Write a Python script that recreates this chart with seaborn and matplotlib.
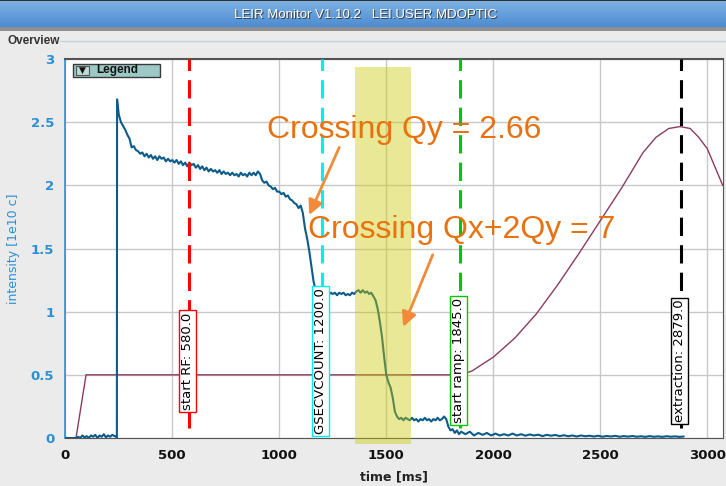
import numpy as np
import pandas as pd
import matplotlib
matplotlib.use("Agg")
import matplotlib.pyplot as plt
from matplotlib.patches import Rectangle
from matplotlib.ticker import FuncFormatter
import seaborn as sns

# ---------------------------------------------------------------- data
# Beam intensity [1e10 charges] along the LEIR cycle, time in ms
t_pre = [0, 50, 60, 70, 80, 90, 100, 110, 120, 130, 140, 150, 160, 170,
         180, 190, 200, 210, 220, 230, 240, 241]
i_pre = [0, 0, 0.01, 0.0, 0.02, 0.005, 0.015, 0.0, 0.02, 0.01, 0.025, 0.0,
         0.02, 0.01, 0.03, 0.005, 0.02, 0.01, 0.025, 0.015, 0.01, 0.0]

t_inj = [242] + list(range(250, 1190, 10))
i_inj = [2.68,
         2.56, 2.50, 2.47, 2.44, 2.40, 2.37, 2.30, 2.31, 2.28, 2.27,
         2.25, 2.26, 2.23, 2.25, 2.22, 2.24, 2.21, 2.23, 2.20, 2.23,
         2.21, 2.22, 2.19, 2.21, 2.19, 2.20, 2.18, 2.20, 2.17, 2.19,
         2.16, 2.18, 2.15, 2.18, 2.16, 2.17, 2.14, 2.16, 2.13, 2.15,
         2.12, 2.14, 2.11, 2.13, 2.11, 2.12, 2.10, 2.12, 2.09, 2.11,
         2.09, 2.10, 2.08, 2.10, 2.08, 2.09, 2.07, 2.10, 2.08, 2.09,
         2.07, 2.10, 2.08, 2.10, 2.08, 2.11, 2.09, 2.04, 2.02, 2.03,
         2.00, 1.99, 1.97, 1.98, 1.95, 1.95, 1.93, 1.94, 1.91, 1.92,
         1.89, 1.88, 1.86, 1.85, 1.82, 1.84, 1.78, 1.66, 1.58, 1.48,
         1.36, 1.24, 1.17, 1.15]

t_mid = list(range(1190, 1860, 10))
i_mid = [1.14, 1.15, 1.14, 1.15, 1.13, 1.15, 1.14, 1.15, 1.13, 1.15,
         1.14, 1.15, 1.13, 1.14, 1.13, 1.15, 1.14, 1.16, 1.17, 1.15,
         1.17, 1.15, 1.16, 1.14, 1.15, 1.12, 1.09, 1.02, 0.92, 0.80,
         0.64, 0.50, 0.44, 0.40, 0.32, 0.21, 0.17, 0.15, 0.16, 0.14,
         0.16, 0.15, 0.14, 0.16, 0.14, 0.15, 0.13, 0.15, 0.14, 0.16,
         0.14, 0.15, 0.13, 0.15, 0.14, 0.16, 0.14, 0.15, 0.17, 0.15,
         0.09, 0.06, 0.07, 0.04, 0.06, 0.03, 0.05]

t_ramp = list(range(1870, 2900, 20))
i_ramp = [0.03, 0.05, 0.02, 0.04, 0.025, 0.04, 0.02, 0.035, 0.02, 0.03,
          0.02, 0.035, 0.02, 0.03, 0.018, 0.028, 0.02, 0.026, 0.015, 0.025,
          0.018, 0.024, 0.015, 0.022, 0.014, 0.02, 0.012, 0.02, 0.014, 0.018,
          0.012, 0.018, 0.01, 0.016, 0.012, 0.017, 0.01, 0.015, 0.011, 0.016,
          0.01, 0.014, 0.009, 0.015, 0.01, 0.013, 0.009, 0.014, 0.01, 0.013,
          0.009, 0.012]

# Main magnetic field function (scaled to the intensity axis)
t_field = [0, 50, 97, 1845, 1900, 2000, 2100, 2200, 2300, 2400, 2500,
           2600, 2700, 2760, 2820, 2872, 2920, 2960, 3000, 3072]
b_field = [0, 0, 0.5, 0.5, 0.53, 0.64, 0.79, 0.98, 1.21, 1.46, 1.72,
           1.98, 2.26, 2.38, 2.45, 2.465, 2.45, 2.38, 2.29, 2.0]

# Timing events
event_names = ["start RF", "GSECVCOUNT", "start ramp", "extraction"]
event_times = [580.0, 1200.0, 1845.0, 2879.0]
event_colors = ["#ff0000", "#00f0f0", "#00c800", "#000000"]

x_ticks = [0, 500, 1000, 1500, 2000, 2500, 3000]
y_ticks = [0, 0.5, 1, 1.5, 2, 2.5, 3]

intensity = pd.DataFrame({
    "time": t_pre + t_inj + t_mid + t_ramp,
    "intensity": i_pre + i_inj + i_mid + i_ramp,
})
field = pd.DataFrame({"time": t_field, "field": b_field})

# ---------------------------------------------------------------- style
sns.set_style("white")
plt.rcParams["font.family"] = ["DejaVu Sans"]
ui_font = ["Liberation Sans", "DejaVu Sans"]

W, H = 726, 486
fig = plt.figure(figsize=(W / 100, H / 100), dpi=100)
fig.patch.set_facecolor("#ebebeb")


def fx(px):
    return px / W


def fy(py):
    return 1 - py / H


# window title bar with a vertical blue gradient
bar = fig.add_axes([0, fy(27), 1, 27 / H])
grad = np.linspace(0, 1, 64).reshape(-1, 1)
top = np.array([0.50, 0.70, 0.90])
bot = np.array([0.30, 0.55, 0.82])
img = top[None, None, :] * (1 - grad[..., None]) + bot[None, None, :] * grad[..., None]
bar.imshow(np.repeat(img, 4, axis=1), aspect="auto", extent=[0, 1, 0, 1])
bar.set_axis_off()
title = "LEIR Monitor V1.10.2   LEI.USER.MDOPTIC"
bar.text(0.686, 0.40, title, ha="right", va="center", fontsize=9.5,
         family=ui_font, color="#3a3a3a", transform=bar.transAxes)
bar.text(0.684, 0.45, title, ha="right", va="center", fontsize=9.5,
         family=ui_font, color="white", transform=bar.transAxes)
fig.add_artist(Rectangle((0, fy(31)), 1, 4 / H, transform=fig.transFigure,
                         facecolor="#8f8f8f", edgecolor="none"))
fig.add_artist(Rectangle((0, fy(1)), 1, 1 / H, transform=fig.transFigure,
                         facecolor="#303030", edgecolor="none"))

# panel caption
fig.text(fx(8), fy(41), "Overview", ha="left", va="center", family=ui_font,
         fontsize=8.5, fontweight="bold", color="#333333")
fig.add_artist(plt.Line2D([fx(60), 1], [fy(41), fy(41)],
                          transform=fig.transFigure, color="#c2d2e2", lw=1))

# ---------------------------------------------------------------- plot
ax = fig.add_axes([fx(65.3), fy(438), fx(722.7) - fx(65.3), fy(59) - fy(438)])
ax.set_facecolor("white")

sns.lineplot(data=field, x="time", y="field", ax=ax, color="#8c3b5e",
             lw=1.0, estimator=None, sort=False, zorder=3)
sns.lineplot(data=intensity, x="time", y="intensity", ax=ax, color="#0b5c8a",
             lw=1.5, estimator=None, sort=False, zorder=4)

ax.set_xlim(0, 3072)
ax.set_ylim(0, 3)
ax.set_xticks(x_ticks)
ax.set_yticks(y_ticks)
ax.xaxis.set_major_formatter(FuncFormatter(lambda v, p: f"{v:g}"))
ax.yaxis.set_major_formatter(FuncFormatter(lambda v, p: f"{v:g}"))
ax.grid(True, color="#c8c8c8", lw=1.0)
ax.set_axisbelow(True)

blue = "#2a8fd4"
ax.tick_params(axis="y", colors=blue, length=6, width=1.2, pad=2,
               labelsize=9.5)
ax.tick_params(axis="x", colors="#111111", length=0, pad=8, labelsize=9.5)
for lab in ax.get_xticklabels() + ax.get_yticklabels():
    lab.set_fontweight("bold")
ax.spines["left"].set_color(blue)
ax.spines["left"].set_linewidth(1.2)
for s in ("top", "right", "bottom"):
    ax.spines[s].set_color("#555555")
ax.spines["top"].set_linewidth(1.5)

ax.set_ylabel("intensity [1e10 c]", color=blue, fontsize=9, labelpad=8)
ax.set_xlabel("time [ms]", color="#222222", fontsize=9, fontweight="bold",
              labelpad=6)

# timing events: dashed markers with boxed labels
for name, t, c in zip(event_names, event_times, event_colors):
    ax.vlines(t, 0.08, 3, colors=c, lw=2.2, linestyles=(0, (6, 3)), zorder=5)
    ax.text(t - 8, 0.61, f"{name}: {t:.1f}", rotation=90, ha="center",
            va="center", fontsize=9.5, color="black", zorder=7,
            bbox=dict(boxstyle="square,pad=0.15", facecolor="white",
                      edgecolor=c, lw=1.0))

# highlighted region of strong losses
ax.add_patch(Rectangle((1354, -0.05), 261, 2.99, facecolor=(0.79, 0.79, 0.0),
                       alpha=0.41, edgecolor="none", clip_on=False, zorder=6))

# resonance crossing annotations
orange = "#e8720f"
arrow_c = "#f28a3a"
ax.text(941, 2.373, "Crossing Qy = 2.66", fontsize=23, color=orange,
        family="Liberation Sans", ha="left", va="baseline", zorder=8)
ax.text(1135, 1.58, "Crossing Qx+2Qy = 7", fontsize=23, color=orange,
        family="Liberation Sans", ha="left", va="baseline", zorder=8)
for start, tip in [((1280, 2.30), (1140, 1.765)), ((1717, 1.45), (1579, 0.88))]:
    ax.annotate("", xy=tip, xytext=start, zorder=8,
                arrowprops=dict(arrowstyle="-|>", color=arrow_c, lw=2.0,
                                mutation_scale=22, shrinkA=0, shrinkB=0))

# legend toggle button
fig.add_artist(Rectangle((fx(73), fy(77)), fx(160) - fx(73), 13 / H,
                         transform=fig.transFigure, facecolor="#9cc9c6",
                         edgecolor="#3a3a3a", lw=1.0, zorder=10))
fig.add_artist(Rectangle((fx(76), fy(75)), fx(89) - fx(76), 9 / H,
                         transform=fig.transFigure, facecolor="#b8dcd8",
                         edgecolor="#555555", lw=0.8, zorder=10.5))
fig.text(fx(82.5), fy(70.5), "\u25bc", ha="center", va="center", fontsize=6.5,
         color="#111111", zorder=11)
fig.text(fx(96), fy(70.5), "Legend", ha="left", va="center", fontsize=8.5,
         family=ui_font, fontweight="bold", color="#111111", zorder=11)

fig.savefig("out.png", dpi=100, facecolor=fig.get_facecolor())
